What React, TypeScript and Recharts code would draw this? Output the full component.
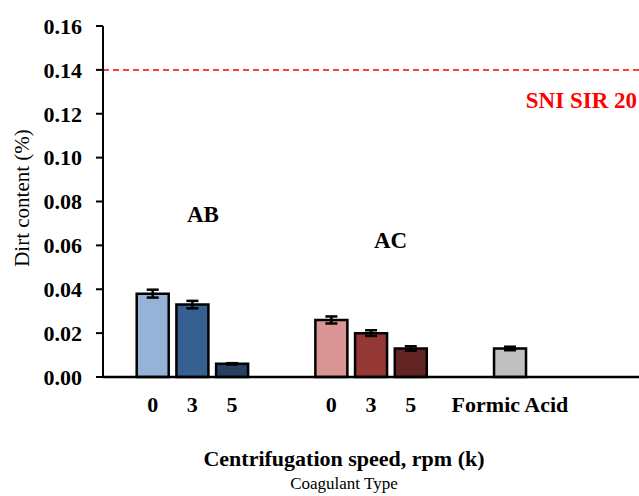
import { Bar, BarChart, Cell, ErrorBar, ReferenceLine, Rectangle, XAxis, YAxis } from 'recharts';

const tickLabels = ['0', '3', '5', '0', '3', '5', 'Formic Acid'];
const dirtContent = [0.038, 0.033, 0.006, 0.026, 0.02, 0.013, 0.013];
const dirtError = [0.0018, 0.0017, 0.0003, 0.0016, 0.0013, 0.001, 0.0008];
const barColors = ['#95B3D7', '#376092', '#254061', '#DA9694', '#953735', '#632523', '#BFBFBF'];
// empty half-width slots placed before each bar (groups are separated by wider gaps)
const gapsBefore = [2, 1, 1, 4, 1, 1, 4];
const gapsAfter = 6;
const yTicks = [0, 0.02, 0.04, 0.06, 0.08, 0.1, 0.12, 0.14, 0.16];
const sniLimit = 0.14;

type Row = { label: string; value?: number; err?: number; color: string };

const rows: Row[] = [];
tickLabels.forEach((label, i) => {
  for (let k = 0; k < gapsBefore[i]; k++) rows.push({ label: '', color: '#fff' });
  rows.push({ label, value: dirtContent[i], err: dirtError[i], color: barColors[i] });
});
for (let k = 0; k < gapsAfter; k++) rows.push({ label: '', color: '#fff' });

const FONT = '"Liberation Serif", "Times New Roman", serif';
const BAR_W = 32;

function WideBar(props: any) {
  const { x, y, width, height, fill } = props;
  if (!height) return null;
  const cx = x + width / 2;
  return (
    <Rectangle
      x={cx - BAR_W / 2}
      y={y}
      width={BAR_W}
      height={height}
      fill={fill}
      stroke="#000"
      strokeWidth={2.5}
    />
  );
}

export default function App() {
  return (
    <div style={{ position: 'absolute', left: 0, top: 0, width: 639, height: 496, background: '#fff', fontFamily: FONT }}>
      <BarChart
        width={639}
        height={496}
        data={rows}
        margin={{ top: 26, right: 0, left: 0, bottom: 79 }}
        barCategoryGap={0}
      >
        <XAxis
          dataKey="label"
          interval={0}
          tickLine={false}
          height={40}
          axisLine={{ stroke: '#000', strokeWidth: 2.5 }}
          tick={{ fill: '#000', fontSize: 22, fontWeight: 'bold', fontFamily: FONT }}
          tickMargin={13}
        />
        <YAxis
          width={103}
          domain={[0, 0.16]}
          ticks={yTicks}
          interval={0}
          tickFormatter={(v) => Number(v).toFixed(2)}
          tickSize={7}
          tickMargin={14}
          axisLine={{ stroke: '#000', strokeWidth: 2 }}
          tickLine={{ stroke: '#000', strokeWidth: 2 }}
          tick={{ fill: '#000', fontSize: 22, fontWeight: 'bold', fontFamily: FONT }}
        />
        <ReferenceLine
          y={sniLimit}
          stroke="#FF0000"
          strokeWidth={1.5}
          strokeDasharray="6 4"
          label={(p: any) => (
            <text
              x={p.viewBox.x + p.viewBox.width - 2}
              y={p.viewBox.y + 38}
              textAnchor="end"
              fill="#FF0000"
              fontSize={23}
              fontWeight="bold"
              fontFamily={FONT}
            >
              SNI SIR 20
            </text>
          )}
        />
        <Bar dataKey="value" shape={WideBar} isAnimationActive={false}>
          {rows.map((r, i) => (
            <Cell key={i} fill={r.color} />
          ))}
          <ErrorBar dataKey="err" width={6} stroke="#000" strokeWidth={2.5} />
        </Bar>
      </BarChart>

      <div style={{ position: 'absolute', left: 187, top: 202, fontSize: 23, fontWeight: 'bold' }}>AB</div>
      <div style={{ position: 'absolute', left: 374, top: 228, fontSize: 23, fontWeight: 'bold' }}>AC</div>

      <div
        style={{
          position: 'absolute',
          left: 22,
          top: 198,
          transform: 'translate(-50%, -50%) rotate(-90deg)',
          whiteSpace: 'nowrap',
          fontSize: 21,
        }}
      >
        Dirt content (%)
      </div>
      <div
        style={{
          position: 'absolute',
          left: 0,
          width: 688,
          top: 446,
          textAlign: 'center',
          fontSize: 22,
          fontWeight: 'bold',
          whiteSpace: 'nowrap',
        }}
      >
        Centrifugation speed, rpm (k)
      </div>
      <div
        style={{ position: 'absolute', left: 0, width: 688, top: 474, textAlign: 'center', fontSize: 17, whiteSpace: 'nowrap' }}
      >
        Coagulant Type
      </div>
    </div>
  );
}
